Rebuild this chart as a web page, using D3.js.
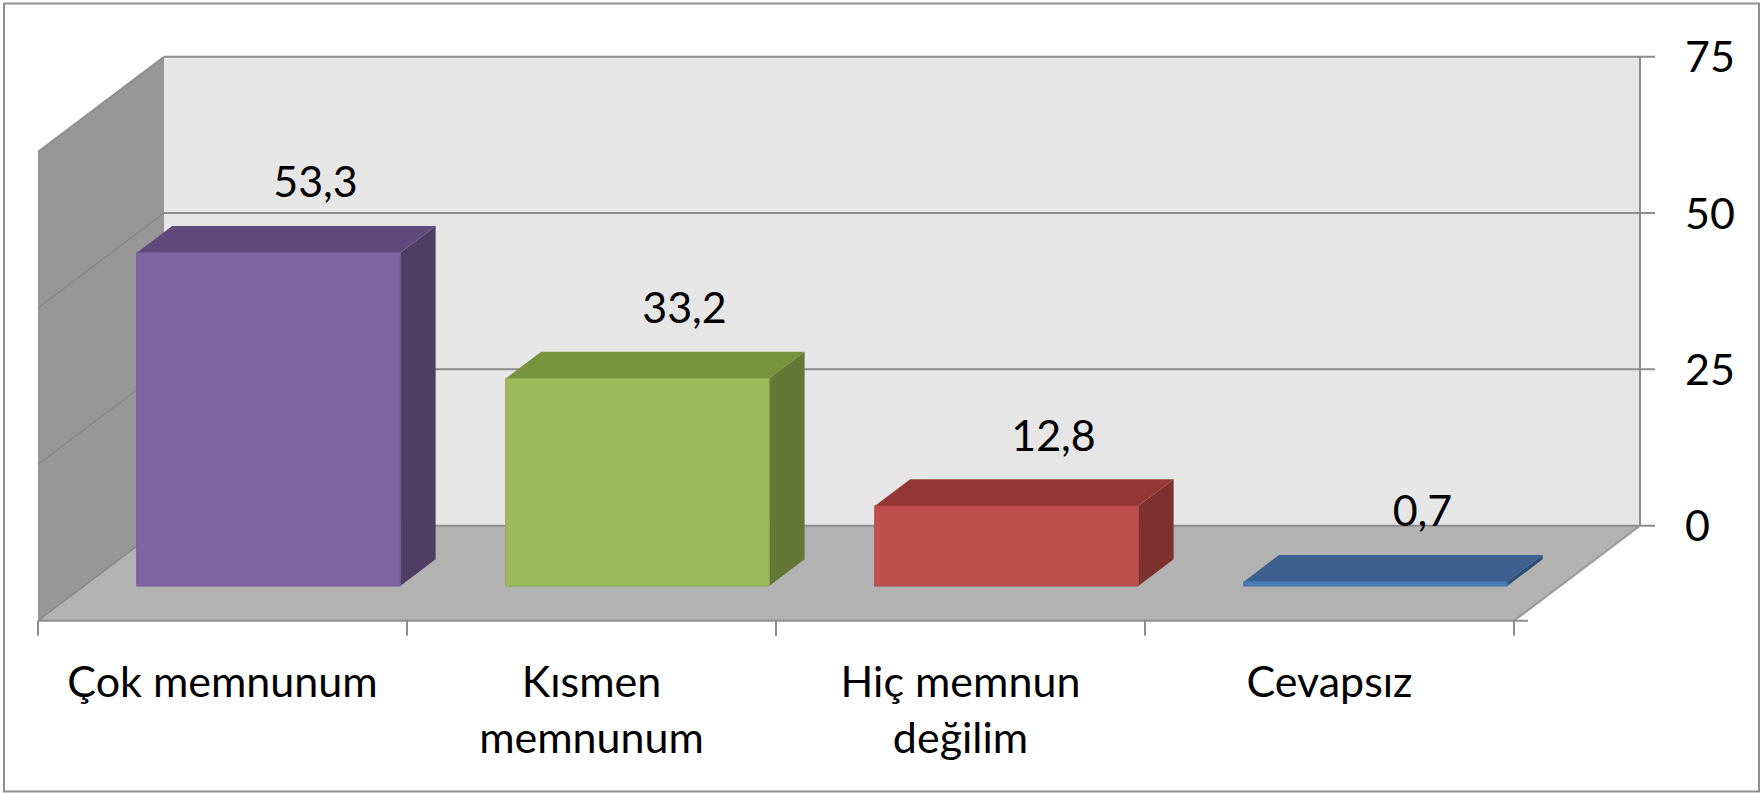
<!DOCTYPE html>
<html>
<head>
<meta charset="utf-8">
<script src="https://cdn.jsdelivr.net/npm/d3@7"></script>
<style>
  html, body { margin: 0; padding: 0; background: #fff; }
  svg { display: block; }
  text { font-family: Lato, "Noto Sans", sans-serif; fill: #000; }
</style>
</head>
<body>
<svg id="chart" width="1762" height="793"></svg>
<script>
// ---- data ----
const categories = ["Çok memnunum", "Kısmen\nmemnunum", "Hiç memnun\ndeğilim", "Cevapsız"];
const values = [53.3, 33.2, 12.8, 0.7];
const valueLabels = ["53,3", "33,2", "12,8", "0,7"];
const yTicks = [0, 25, 50, 75];
const frontColors = ["#8064A2", "#9BBB59", "#C0504D", "#4A7EBB"];
const topColors   = ["#604A7B", "#77933C", "#953735", "#3C6090"];
const sideColors  = ["#4F3D66", "#647836", "#7E302E", "#2F4E75"];

// ---- layout ----
const W = 1762, H = 793;
const svg = d3.select("#chart");
const fs = 43;

const x = d3.scaleBand().domain(categories).range([38, 1514]).padding(0);
const y = d3.scaleLinear().domain([0, 75]).range([620.7, 151.7]); // front plane
const DX = 126, DY = 95;           // depth vector (front -> back)
const T0 = 0.365, T1 = 0.646;      // bar depth extent
const barFrac = 0.714;

const P = (xf, v, t) => [xf + t * DX, y(v) - t * DY];
const poly = pts => pts.map(p => p.join(",")).join(" ");

// frame
svg.append("rect").attr("x", 4).attr("y", 3.5).attr("width", 1755).attr("height", 788)
  .attr("fill", "#fff").attr("stroke", "#8f8f8f").attr("stroke-width", 2);

const x0 = x.range()[0], x1 = x.range()[1];
const vMax = y.domain()[1];

// back wall
svg.append("polygon")
  .attr("points", poly([P(x0, 0, 1), P(x1, 0, 1), P(x1, vMax, 1), P(x0, vMax, 1)]))
  .attr("fill", "#E6E6E6");
// side wall
svg.append("polygon")
  .attr("points", poly([P(x0, 0, 0), P(x0, vMax, 0), P(x0, vMax, 1), P(x0, 0, 1)]))
  .attr("fill", "#969696");
// floor
svg.append("polygon")
  .attr("points", poly([P(x0, 0, 0), P(x1, 0, 0), P(x1, 0, 1), P(x0, 0, 1)]))
  .attr("fill", "#B2B2B2");

// gridlines on back wall and side wall
yTicks.forEach(v => {
  const a = P(x0, v, 1), b = P(x1, v, 1);
  svg.append("line").attr("x1", a[0]).attr("y1", a[1]).attr("x2", b[0] + 15).attr("y2", b[1])
    .attr("stroke", "#8C8C8C").attr("stroke-width", 2);
  const c = P(x0, v, 0);
  svg.append("line").attr("x1", c[0]).attr("y1", c[1]).attr("x2", a[0]).attr("y2", a[1])
    .attr("stroke", v === 75 ? "#8C8C8C" : "#858585").attr("stroke-width", v === 75 ? 1.5 : 1.2);
});
// back wall right edge
{
  const a = P(x1, 0, 1), b = P(x1, vMax, 1);
  svg.append("line").attr("x1", a[0]).attr("y1", a[1]).attr("x2", b[0]).attr("y2", b[1])
    .attr("stroke", "#8C8C8C").attr("stroke-width", 2);
  // floor right edge
  const c = P(x1, 0, 0);
  svg.append("line").attr("x1", c[0]).attr("y1", c[1]).attr("x2", a[0]).attr("y2", a[1])
    .attr("stroke", "#999").attr("stroke-width", 2);
}
// front floor line + category ticks
svg.append("line").attr("x1", x0).attr("y1", y(0)).attr("x2", x1 + 14).attr("y2", y(0))
  .attr("stroke", "#8C8C8C").attr("stroke-width", 2);
const tickXs = categories.map(c => x(c)).concat([x1]);
svg.selectAll(".ctick").data(tickXs).enter().append("line")
  .attr("x1", d => d).attr("x2", d => d)
  .attr("y1", y(0)).attr("y2", y(0) + 15)
  .attr("stroke", "#8C8C8C").attr("stroke-width", 2);

// right value axis
const yBack = d3.scaleLinear().domain(y.domain()).range([y(0) - DY, y(vMax) - DY]);
const axis = svg.append("g")
  .attr("transform", `translate(${x1 + DX},0)`)
  .call(d3.axisRight(yBack).tickValues(yTicks).tickSize(0).tickPadding(45).tickFormat(d3.format("d")));
axis.select(".domain").remove();
axis.selectAll("text").attr("font-size", fs).attr("font-family", "Lato, sans-serif")
  .attr("dy", "0.35em").attr("fill", "#000");

// bars
const bars = svg.append("g");
categories.forEach((cat, i) => {
  const v = values[i];
  const c = x(cat) + x.bandwidth() / 2;
  const hw = x.bandwidth() * barFrac / 2;
  const L = c - hw, R = c + hw;
  // right side
  bars.append("polygon")
    .attr("points", poly([P(R, 0, T0), P(R, v, T0), P(R, v, T1), P(R, 0, T1)]))
    .attr("fill", sideColors[i]);
  // top
  bars.append("polygon")
    .attr("points", poly([P(L, v, T0), P(R, v, T0), P(R, v, T1), P(L, v, T1)]))
    .attr("fill", topColors[i]);
  // front
  const fl = P(L, v, T0), br = P(R, 0, T0);
  bars.append("rect")
    .attr("x", fl[0]).attr("y", fl[1])
    .attr("width", br[0] - fl[0]).attr("height", Math.max(0, br[1] - fl[1]))
    .attr("fill", frontColors[i])
    .attr("stroke", d3.color(frontColors[i]).darker(0.3)).attr("stroke-width", 1);
  // value label
  svg.append("text")
    .attr("x", c + 93)
    .attr("y", yBack(v) + 5)
    .attr("text-anchor", "middle")
    .attr("font-size", fs)
    .text(valueLabels[i]);
});

// category labels
categories.forEach(cat => {
  const lines = cat.split("\n");
  const t = svg.append("text")
    .attr("x", x(cat) + x.bandwidth() / 2)
    .attr("y", 696.7)
    .attr("text-anchor", "middle")
    .attr("font-size", fs);
  lines.forEach((ln, j) => {
    t.append("tspan").attr("x", x(cat) + x.bandwidth() / 2)
      .attr("dy", j === 0 ? 0 : 56).text(ln);
  });
});
</script>
</body>
</html>
